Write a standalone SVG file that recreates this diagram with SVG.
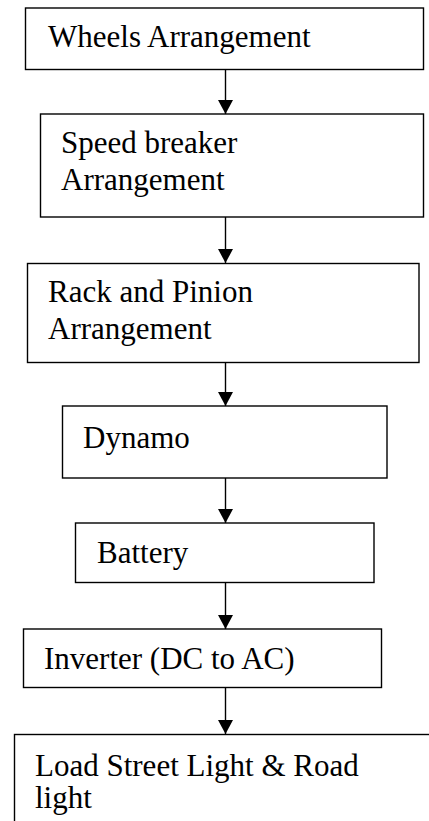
<svg xmlns="http://www.w3.org/2000/svg" width="429" height="821" viewBox="0 0 429 821">
<style>
.box{fill:#fff;stroke:#000;stroke-width:1.4}
.t{font-family:'Liberation Serif',Tinos,'Times New Roman',Times,'DejaVu Serif',serif;font-size:31px;fill:#000}
.c{stroke:#000;stroke-width:1.4;fill:none}
</style>
<defs>
<marker id="ah" markerUnits="userSpaceOnUse" markerWidth="16" markerHeight="16" refX="14" refY="7.5" orient="auto" viewBox="0 0 16 16">
<path d="M0,0 L14,7.5 L0,15 z" fill="#000"/>
</marker>
</defs>
<rect width="429" height="821" fill="#fff"/>
<g id="connectors">
<line class="c" x1="225.5" y1="70" x2="225.5" y2="114" marker-end="url(#ah)"/>
<line class="c" x1="225.5" y1="217" x2="225.5" y2="263" marker-end="url(#ah)"/>
<line class="c" x1="225.5" y1="362" x2="225.5" y2="406" marker-end="url(#ah)"/>
<line class="c" x1="225.5" y1="478" x2="225.5" y2="523" marker-end="url(#ah)"/>
<line class="c" x1="225.5" y1="582" x2="225.5" y2="629" marker-end="url(#ah)"/>
<line class="c" x1="225.5" y1="687" x2="225.5" y2="734" marker-end="url(#ah)"/>
</g>
<g id="wheels">
<rect class="box" x="25.5" y="8" width="398" height="61.5"/>
<text class="t" x="48" y="47" font-family="Liberation Serif, serif">Wheels Arrangement</text>
</g>
<g id="speedbreaker">
<rect class="box" x="40.5" y="114" width="383" height="103"/>
<text class="t" x="61" y="153">Speed breaker</text>
<text class="t" x="61" y="190">Arrangement</text>
</g>
<g id="rackpinion">
<rect class="box" x="27.5" y="263.5" width="391.5" height="99"/>
<text class="t" x="48" y="302">Rack and Pinion</text>
<text class="t" x="48" y="339">Arrangement</text>
</g>
<g id="dynamo">
<rect class="box" x="62.5" y="406" width="324.5" height="72"/>
<text class="t" x="83" y="448">Dynamo</text>
</g>
<g id="battery">
<rect class="box" x="75.5" y="523" width="298.5" height="59.5"/>
<text class="t" x="97" y="563">Battery</text>
</g>
<g id="inverter">
<rect class="box" x="23.5" y="629" width="358" height="58.5"/>
<text class="t" x="44" y="669">Inverter (DC to AC)</text>
</g>
<g id="load">
<rect class="box" x="14.5" y="734.5" width="440" height="110"/>
<text class="t" x="35" y="776">Load Street Light &amp; Road</text>
<text class="t" x="35" y="808">light</text>
</g>
</svg>
